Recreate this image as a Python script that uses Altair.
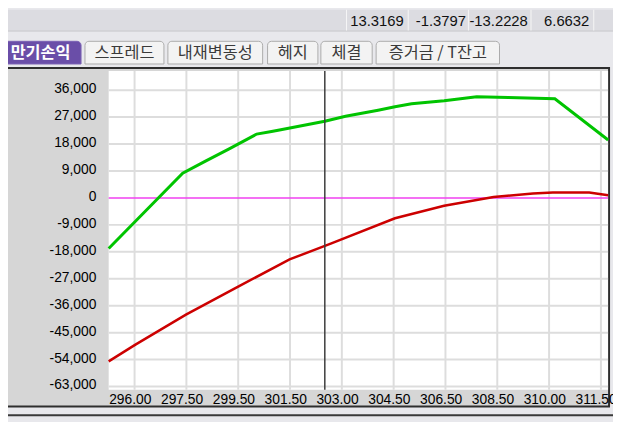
import altair as alt
import pandas as pd

# ---- data ----
green_price = [296.00, 298.50, 299.27, 300.07, 301.00, 301.50, 301.77, 303.30, 304.00,
               305.10, 305.67, 306.23, 307.33, 308.43, 309.50, 311.07, 312.87]
green_pl = [-16900, 8240, 12300, 16400, 21330, 22200, 22700, 25620, 27270,
            29300, 30460, 31450, 32440, 33760, 33530, 33100, 19350]

red_price = [296.00, 296.89, 298.61, 300.39, 302.11, 303.50, 305.67, 307.33, 309.00,
             310.33, 311.00, 312.23, 312.87]
red_pl = [-54600, -49100, -39000, -29540, -20540, -15260, -6800, -2640, 330,
          1450, 1780, 1780, 890]

current_price = [303.3]

x_tick_values = [296.0, 297.75, 299.5, 301.25, 303.0, 304.75, 306.5, 308.25, 310.0, 311.75]
x_tick_labels = ["296.00", "297.50", "299.50", "301.50", "303.00", "304.50",
                 "306.50", "308.50", "310.00", "311.50"]
x_grid_values = [296.875, 298.625, 300.375, 302.125, 303.875, 305.625,
                 307.375, 309.125, 310.875, 312.625]
y_tick_values = [-63000, -54000, -45000, -36000, -27000, -18000, -9000,
                 0, 9000, 18000, 27000, 36000]

tab_names = ["만기손익", "스프레드", "내재변동성", "헤지", "체결", "증거금 / T잔고"]
header_values = ["13.3169", "-1.3797", "-13.2228", "6.6632"]

# ---- layout ----
W, H = 506, 323
xs = alt.Scale(domain=[296, 296 + W / 30], nice=False, zero=False)
ys = alt.Scale(domain=[-64055, 42428], nice=False, zero=False)
one = pd.DataFrame({"k": [0]})
LABEL_FONT = "Liberation Sans"

x_axis = alt.Axis(
    values=x_tick_values, title=None, grid=False, domain=False, ticks=False,
    labelAlign="left", labelBaseline="top", labelPadding=3, labelFlush=False,
    labelOverlap=False, labelBound=False, labelFont=LABEL_FONT, labelFontSize=14,
    labelColor="#000000", zindex=1,
    labelExpr="%s[round((datum.value - 296) / 1.75)]" % str(x_tick_labels))
y_axis = alt.Axis(
    values=y_tick_values, title=None, grid=False, domain=False, ticks=False,
    labelPadding=13, labelFont=LABEL_FONT, labelFontSize=14, labelColor="#000000",
    labelOverlap=False, labelFlush=False, labelOffset=-1.5, zindex=1,
    labelExpr="replace(format(datum.value, ','), '\u2212', '-')")


def box(x0, x1, y0, y1, **kw):
    return alt.Chart(one).mark_rect(**kw).encode(
        x=alt.value(x0), x2=alt.value(x1), y=alt.value(y0), y2=alt.value(y1))


def txt(t, x, y, **kw):
    return alt.Chart(one).mark_text(text=t, **kw).encode(x=alt.value(x), y=alt.value(y))


layers = []

# header number row
layers.append(box(-110, 515, -62, -41, fill="#dcdce1"))
layers.append(box(-110, 515, -41, -40, fill="#c4c4c8"))
for sx in [240.5, 303, 364, 427.4, 491]:
    layers.append(box(sx, sx + 1, -62, -41, fill="#f6f6f6"))
for val, rx in zip(header_values, [299, 362, 424.7, 487]):
    layers.append(txt(val, rx, -51, font=LABEL_FONT, fontSize=15, align="right",
                      baseline="middle", color="#111111"))

# tabs
tab_x = [(-110, -28), (-24, 56), (60, 156), (161, 212), (215, 267), (271, 396)]
for i, (name, (a, b)) in enumerate(zip(tab_names, tab_x)):
    sel = i == 0
    layers.append(box(a, b, -30, -7, fill="#6a4ea8" if sel else "#f3f3f3",
                      stroke="#7a62b4" if sel else "#ababab", strokeWidth=1,
                      cornerRadiusTopLeft=4, cornerRadiusTopRight=4))
    layers.append(txt(name, (a + b) / 2 if i else -69, -18,
                      font="Noto Sans CJK KR", fontSize=16.5,
                      fontWeight="bold" if sel else "normal",
                      color="white" if sel else "#3a3a3a",
                      align="center", baseline="middle"))

# chart frame and plot background
layers.append(box(-107, 507, -3, 340, fill="#d6d6d6", stroke="#2e2e2e", strokeWidth=2))
layers.append(box(-110, 515, 348, 350, fill="#3a3a3a"))
layers.append(box(0, W, 0, H, fill="white"))

# grid
layers.append(alt.Chart(pd.DataFrame({"g": x_grid_values})).mark_rule(
    color="#dddddd", strokeWidth=2).encode(x=alt.X("g:Q", scale=xs, axis=x_axis)))
layers.append(alt.Chart(pd.DataFrame({"g": [v for v in y_tick_values if v != 0]})).mark_rule(
    color="#dddddd", strokeWidth=2).encode(y=alt.Y("g:Q", scale=ys, axis=y_axis)))
layers.append(alt.Chart(pd.DataFrame({"g": [0]})).mark_rule(
    color="#f040f0", strokeWidth=1.5).encode(y=alt.Y("g:Q", scale=ys, axis=y_axis)))

# series
green = alt.Chart(pd.DataFrame({"price": green_price, "pl": green_pl})).mark_line(
    color="#00c400", strokeWidth=3).encode(
    x=alt.X("price:Q", scale=xs, axis=x_axis),
    y=alt.Y("pl:Q", scale=ys, axis=y_axis))
red = alt.Chart(pd.DataFrame({"price": red_price, "pl": red_pl})).mark_line(
    color="#cc0000", strokeWidth=2.5).encode(
    x=alt.X("price:Q", scale=xs, axis=x_axis),
    y=alt.Y("pl:Q", scale=ys, axis=y_axis))
layers += [green, red]

layers.append(alt.Chart(pd.DataFrame({"price": current_price})).mark_rule(
    color="#3c3c3c", strokeWidth=1.5).encode(x=alt.X("price:Q", scale=xs, axis=x_axis)))

chart = alt.layer(*layers).properties(
    width=W, height=H,
    padding={"left": 102, "top": 61, "right": 5, "bottom": 30},
    autosize=alt.AutoSizeParams(type="none"),
    background="#e8e8ec",
).configure_view(stroke=None)

chart.save("out.html", embed_options={"renderer": "svg", "actions": False})
